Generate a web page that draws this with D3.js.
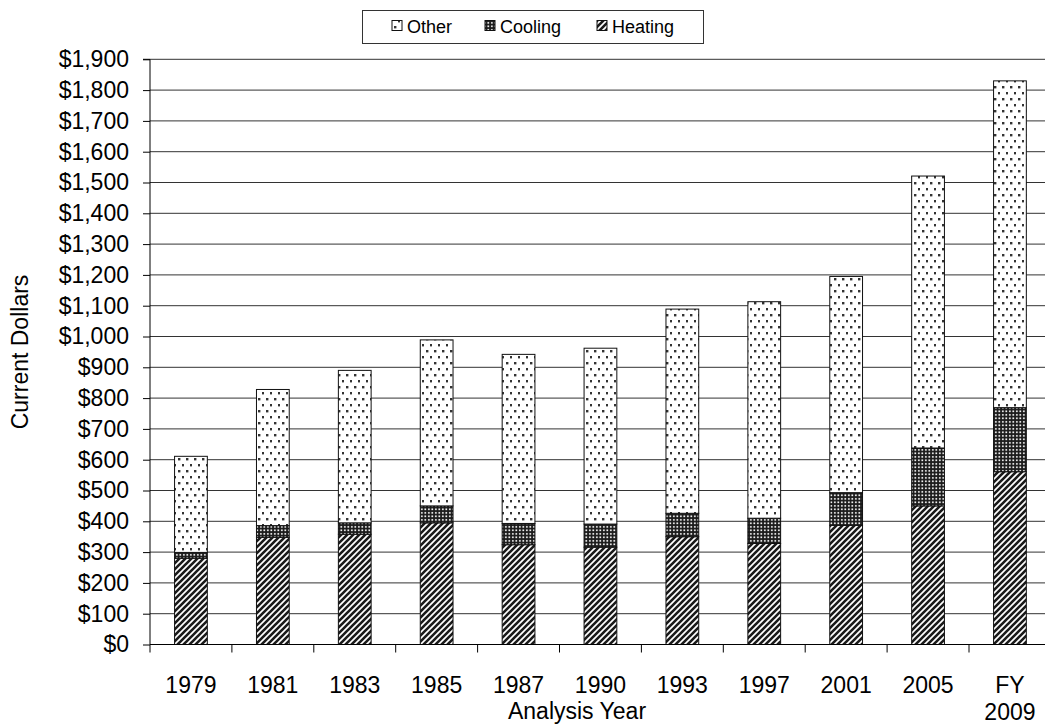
<!DOCTYPE html>
<html><head><meta charset="utf-8">
<script src="https://cdn.jsdelivr.net/npm/d3@7"></script>
<style>body{margin:0;background:#fff}svg{display:block}text{font-family:"Liberation Sans",Arial,sans-serif;fill:#000}</style>
</head><body><svg id="c" width="1045" height="728"></svg>
<script>
const years = ["1979","1981","1983","1985","1987","1990","1993","1997","2001","2005","FY 2009"];
const heating = [280,348,358,395,324,316,350,328,387,450,561];
const cooling = [19,38,37,55,69,75,76,82,106,188,208];
const other = [312,442,495,539,549,571,663,703,702,883,1061];
const yTicks = [0,100,200,300,400,500,600,700,800,900,1000,1100,1200,1300,1400,1500,1600,1700,1800,1900];
const seriesNames = ["Heating","Cooling","Other"];
const legendOrder = ["Other","Cooling","Heating"];

const svg = d3.select("#c");
const defs = svg.append("defs");
// Heating hatch
const ph = defs.append("pattern").attr("id","p-Heating").attr("patternUnits","userSpaceOnUse").attr("width",6).attr("height",6);
ph.append("rect").attr("width",6).attr("height",6).attr("fill","#fff");
ph.append("path").attr("d","M0,6 L6,0 M-1.5,1.5 L1.5,-1.5 M4.5,7.5 L7.5,4.5").attr("stroke","#1a1a1a").attr("stroke-width",2.6);
// Cooling grid
const pc = defs.append("pattern").attr("id","p-Cooling").attr("patternUnits","userSpaceOnUse").attr("width",3.5).attr("height",3.5);
pc.append("rect").attr("width",3.5).attr("height",3.5).attr("fill","#1a1a1a");
pc.append("rect").attr("x",1).attr("y",1).attr("width",1.7).attr("height",1.7).attr("fill","#fff");
// Other dots
const po = defs.append("pattern").attr("id","p-Other").attr("patternUnits","userSpaceOnUse").attr("width",8).attr("height",12);
po.append("rect").attr("width",8).attr("height",12).attr("fill","#fff");
po.append("rect").attr("x",2).attr("y",2).attr("width",2.4).attr("height",2.4).attr("fill","#333");
po.append("rect").attr("x",6).attr("y",8).attr("width",2.4).attr("height",2.4).attr("fill","#333");

const x0 = 150, yBase = 644.5, yTop = 59.3;
const x = d3.scaleBand().domain(years).range([x0, x0 + 11*81.9]).paddingInner(0.6).paddingOuter(0.3);
const y = d3.scaleLinear().domain([0,1900]).range([yBase, yTop]);

// gridlines
svg.append("g").selectAll("line").data(yTicks.filter(d=>d>0)).join("line")
  .attr("x1",x0).attr("x2",1045).attr("y1",d=>y(d)).attr("y2",d=>y(d))
  .attr("stroke","#333").attr("stroke-width",1);

// stacked bars
const table = years.map((yr,i)=>({year:yr, Heating:heating[i], Cooling:cooling[i], Other:other[i]}));
const stack = d3.stack().keys(seriesNames)(table);
svg.append("g").selectAll("g").data(stack).join("g")
  .attr("fill",d=>`url(#p-${d.key})`)
  .selectAll("rect").data(d=>d).join("rect")
  .attr("x",d=>x(d.data.year)).attr("width",x.bandwidth())
  .attr("y",d=>y(d[1])).attr("height",d=>y(d[0])-y(d[1]))
  .attr("stroke","#111").attr("stroke-width",1);

// y axis
const yAxis = d3.axisLeft(y).tickValues(yTicks).tickSize(7).tickPadding(14)
  .tickFormat(d=>"$"+d3.format(",")(d));
const gy = svg.append("g").attr("transform",`translate(${x0},0)`).call(yAxis);
gy.select(".domain").attr("stroke","#000").attr("d",`M-7,${yTop}H0V${yBase}`);
gy.selectAll("line").attr("stroke","#000");
gy.selectAll("text").attr("font-size",23).attr("font-family","Liberation Sans, Arial, sans-serif").attr("fill","#000");

// x axis
svg.append("line").attr("x1",x0).attr("x2",1045).attr("y1",yBase).attr("y2",yBase).attr("stroke","#000");
const step = x.step();
svg.append("g").selectAll("line").data(years).join("line")
  .attr("x1",d=>x(d)-step*0.3).attr("x2",d=>x(d)-step*0.3)
  .attr("y1",yBase).attr("y2",yBase+8).attr("stroke","#000");
const xl = svg.append("g").selectAll("text").data(years).join("text")
  .attr("text-anchor","middle").attr("font-size",23)
  .attr("x",d=>x(d)+x.bandwidth()/2).attr("y",693);
xl.each(function(d){
  const parts = d.split(" ");
  const t = d3.select(this);
  parts.forEach((p,j)=>t.append("tspan").attr("x",x(d)+x.bandwidth()/2).attr("dy",j===0?0:27).text(p));
});

// axis titles
svg.append("text").attr("text-anchor","middle").attr("font-size",23).attr("x",577).attr("y",719).text("Analysis Year");
svg.append("text").attr("text-anchor","middle").attr("font-size",23)
  .attr("transform","translate(28,352) rotate(-90)").text("Current Dollars");

// legend
const lg = svg.append("g");
lg.append("rect").attr("x",362.5).attr("y",10.5).attr("width",341).attr("height",33).attr("fill","#fff").attr("stroke","#333");
const lx = [392,485,597];
legendOrder.forEach((k,i)=>{
  lg.append("rect").attr("x",lx[i]).attr("y",20.5).attr("width",10).attr("height",10)
    .attr("fill",`url(#p-${k})`).attr("stroke","#111");
  lg.append("text").attr("x",lx[i]+15).attr("y",33).attr("font-size",18).text(k);
});
</script></body></html>
